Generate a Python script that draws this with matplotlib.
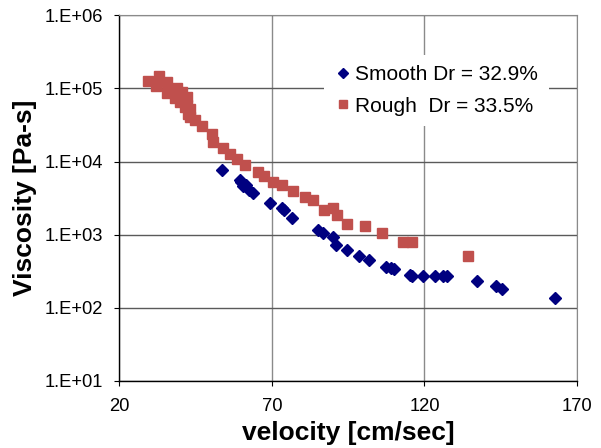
import numpy as np
import matplotlib
matplotlib.use("Agg")
import matplotlib.pyplot as plt
from matplotlib.ticker import FixedLocator, FuncFormatter, NullLocator

plt.rcParams['font.family'] = ['Liberation Sans', 'DejaVu Sans']

# smooth interface, Dr = 32.9%
smooth_v = [53.5, 59.4, 59.7, 60.5, 61.5, 62.5, 63.8, 69.3, 73.2, 73.9, 76.5,
            85.2, 86.6, 89.9, 91.0, 94.7, 98.6, 101.9, 107.4, 108.9, 110.1,
            115.2, 115.8, 119.6, 123.4, 126.2, 127.3, 137.1, 143.4, 145.5, 162.8]
smooth_mu = [7.6e3, 5.6e3, 5.3e3, 4.6e3, 4.8e3, 4.1e3, 3.7e3, 2.7e3, 2.3e3, 2.2e3, 1.7e3,
             1.15e3, 1.04e3, 9.2e2, 7.3e2, 6.1e2, 5.1e2, 4.5e2, 3.6e2, 3.45e2, 3.4e2,
             2.8e2, 2.7e2, 2.7e2, 2.7e2, 2.7e2, 2.7e2, 2.3e2, 2.0e2, 1.8e2, 1.34e2]

# rough interface, Dr = 33.5%
rough_v = [29.3, 33.1, 32.1, 35.5, 36.6, 35.5, 38.8, 37.6, 40.4, 38.2, 39.3, 42.0,
           39.8, 42.0, 41.5, 43.1, 42.6, 43.1, 44.8, 47.0, 50.2, 50.8, 54.0, 56.2,
           58.4, 61.2, 65.5, 67.4, 70.4, 73.2, 76.8, 80.8, 83.3, 87.1, 90.1, 91.4,
           94.7, 100.5, 106.2, 113.0, 115.8, 134.2]
rough_mu = [1.27e5, 1.48e5, 1.09e5, 1.23e5, 9.5e4, 8.6e4, 1.0e5, 9.0e4, 9.0e4, 7.3e4, 7.7e4, 7.7e4,
            6.6e4, 5.9e4, 5.6e4, 5.3e4, 4.4e4, 4.1e4, 3.7e4, 3.1e4, 2.4e4, 1.86e4, 1.54e4, 1.26e4,
            1.08e4, 8.9e3, 7.1e3, 6.3e3, 5.3e3, 4.8e3, 3.9e3, 3.3e3, 3.0e3, 2.2e3, 2.3e3, 1.85e3,
            1.39e3, 1.31e3, 1.04e3, 8.0e2, 8.0e2, 5.1e2]

x_ticks = [20, 70, 120, 170]
y_ticks = [1e1, 1e2, 1e3, 1e4, 1e5, 1e6]

fig = plt.figure(figsize=(6.01, 4.48), dpi=100)
ax = fig.add_axes([0.1988, 0.150, 0.7612, 0.8158])

ax.plot(smooth_v, smooth_mu, linestyle='none', marker='D', markersize=6,
        color='#000080', label='Smooth Dr = 32.9%', zorder=3)
ax.plot(rough_v, rough_mu, linestyle='none', marker='s', markersize=7,
        color='#C0504D', label='Rough  Dr = 33.5%', zorder=3)

ax.set_yscale('log')
ax.set_xlim(20, 170)
ax.set_ylim(1e1, 1e6)
ax.xaxis.set_major_locator(FixedLocator(x_ticks))
ax.yaxis.set_major_locator(FixedLocator(y_ticks))
ax.yaxis.set_minor_locator(NullLocator())
ax.yaxis.set_major_formatter(FuncFormatter(lambda v, p: "1.E+%02d" % int(round(np.log10(v)))))

ax.yaxis.grid(True, color='#5a5a5a', linewidth=1.0)
ax.xaxis.grid(True, color='#8a8a8a', linewidth=1.0)
ax.set_axisbelow(True)

for s in ['top', 'right']:
    ax.spines[s].set_color('#8a8a8a')
for s in ['left', 'bottom']:
    ax.spines[s].set_color('black')
    ax.spines[s].set_linewidth(1.0)

ax.tick_params(axis='both', direction='out', length=3.6, width=0.8, labelsize=13.2, colors='black')
ax.tick_params(axis='y', pad=8)
ax.tick_params(axis='x', pad=9)

ax.set_xlabel('velocity [cm/sec]', fontsize=19, fontweight='bold', labelpad=4)
ax.set_ylabel('Viscosity [Pa-s]', fontsize=19, fontweight='bold', labelpad=6)

leg = ax.legend(loc='upper left', bbox_to_anchor=(324 / 601, 1 - 55 / 448),
                bbox_transform=fig.transFigure, borderaxespad=0,
                fontsize=15, frameon=True, fancybox=False, facecolor='white',
                edgecolor='none', framealpha=1, handlelength=0.8, handletextpad=0.2,
                labelspacing=0.58, borderpad=0.5, markerscale=0.85)

fig.savefig('out.png', dpi=100)
